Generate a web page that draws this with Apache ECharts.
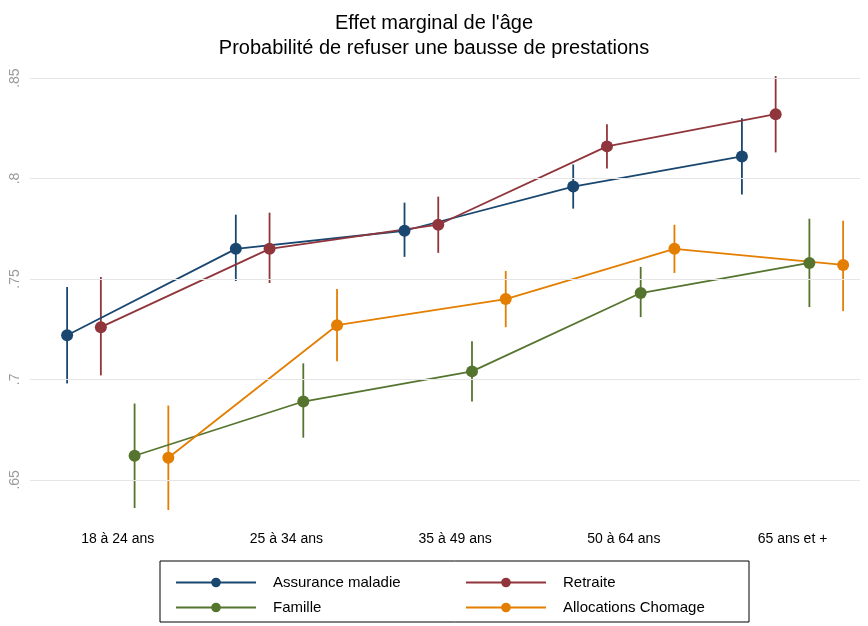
<!DOCTYPE html>
<html><head><meta charset="utf-8">
<script src="https://cdn.jsdelivr.net/npm/echarts@6/dist/echarts.min.js"></script>
<style>html,body{margin:0;background:#fff}#c{width:868px;height:626px}</style>
</head><body><div id="c"></div>
<script>
const categories = ["18 à 24 ans","25 à 34 ans","35 à 49 ans","50 à 64 ans","65 ans et +"];
const yTicks = [0.65,0.70,0.75,0.80,0.85];
const names = ["Assurance maladie","Retraite","Famille","Allocations Chomage"];
const colors = ["#1a476f","#90353b","#55752f","#e37e00"];
const offsets = [-0.3,-0.1,0.1,0.3];
const assurance = [0.722,0.765,0.774,0.796,0.811];
const assuranceLo = [0.698,0.749,0.761,0.785,0.792];
const assuranceHi = [0.746,0.782,0.788,0.807,0.830];
const retraite = [0.726,0.765,0.777,0.816,0.832];
const retraiteLo = [0.702,0.748,0.763,0.805,0.813];
const retraiteHi = [0.751,0.783,0.791,0.827,0.851];
const famille = [0.662,0.689,0.704,0.743,0.758];
const familleLo = [0.636,0.671,0.689,0.731,0.736];
const familleHi = [0.688,0.708,0.719,0.756,0.780];
const chomage = [0.661,0.727,0.740,0.765,0.757];
const chomageLo = [0.635,0.709,0.726,0.753,0.734];
const chomageHi = [0.687,0.745,0.754,0.777,0.779];

const vals=[assurance,retraite,famille,chomage];
const los=[assuranceLo,retraiteLo,familleLo,chomageLo];
const his=[assuranceHi,retraiteHi,familleHi,chomageHi];
const series=[];
vals.forEach((v,s)=>{
  series.push({type:'line',name:names[s],z:3,data:v.map((y,i)=>[i+offsets[s],y]),
    color:colors[s],symbol:'circle',symbolSize:12,lineStyle:{width:1.8,color:colors[s]},
    itemStyle:{color:colors[s]},
    markLine:s===0?{silent:true,symbol:'none',label:{show:false},lineStyle:{color:'#e6e6e6',width:1,type:'solid'},data:yTicks.map(t=>({yAxis:t}))}:undefined});
});
vals.forEach((v,s)=>{
  series.push({type:'custom',name:names[s]+' IC',z:2,
    data:v.map((_,i)=>[i+offsets[s],los[s][i],his[s][i]]),
    renderItem:(p,api)=>{const a=api.coord([api.value(0),api.value(1)]),b=api.coord([api.value(0),api.value(2)]);
      return {type:'line',shape:{x1:a[0],y1:a[1],x2:b[0],y2:b[1]},style:{stroke:colors[s],lineWidth:1.8}};},
    silent:true});
});
const chart=echarts.init(document.getElementById('c'));
const lg={orient:'vertical',top:570,itemGap:10,itemWidth:80,itemHeight:12,
  textStyle:{fontSize:15,fontFamily:'Liberation Sans',color:'#000',padding:[0,0,0,12]}};
chart.setOption({
  animation:false,
  title:{text:"Effet marginal de l'âge\nProbabilité de refuser une bausse de prestations",left:'center',top:6,
    textStyle:{fontFamily:'Liberation Sans',fontWeight:'normal',fontSize:20,color:'#000',lineHeight:25}},
  grid:{left:30,right:8,top:62,bottom:116},
  xAxis:{type:'value',min:-0.52,max:4.4,splitLine:{show:false},axisLine:{show:false},axisTick:{show:false},
    axisLabel:{customValues:[0,1,2,3,4],formatter:v=>categories[Math.round(v)],fontSize:14,color:'#000',fontFamily:'Liberation Sans',margin:22}},
  yAxis:{type:'value',min:0.635,max:0.858,splitLine:{show:false},axisLine:{show:false},axisTick:{show:false},
    axisLabel:{customValues:yTicks,formatter:v=>String(Math.round(v*100)/100).replace('0.','.'),rotate:90,fontSize:14,color:'#999',fontFamily:'Liberation Sans',margin:8}},
  legend:[
    Object.assign({left:170,data:[names[0],names[2]]},lg),
    Object.assign({left:460,data:[names[1],names[3]]},lg)
  ],
  graphic:[{type:'rect',shape:{x:160,y:561,width:589,height:61},style:{fill:'none',stroke:'#000',lineWidth:1}}],
  series
});
</script></body></html>
